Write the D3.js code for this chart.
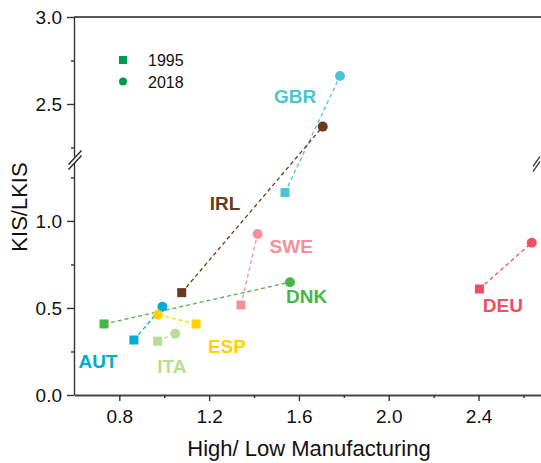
<html>
<head>
<style>
  body { margin: 0; background: #fff; }
  text { font-family: "Liberation Sans", Arial, sans-serif; }
</style>
</head>
<body>
<script src="https://cdn.jsdelivr.net/npm/d3@7"></script>
<script>
// data
var countries = ["GBR", "IRL", "SWE", "DNK", "AUT", "ESP", "ITA", "DEU"];
var x1995 = [1.538, 1.078, 1.342, 0.732, 0.865, 1.142, 0.971, 2.404];
var y1995 = [1.163, 0.588, 0.517, 0.408, 0.316, 0.408, 0.309, 0.609];
var x2018 = [1.783, 1.706, 1.416, 1.560, 0.992, 0.972, 1.049, 2.637];
var y2018 = [2.661, 2.370, 0.925, 0.648, 0.507, 0.461, 0.352, 0.875];
var colors = ["#4cc4d6", "#6b3a1c", "#f4909b", "#47b649", "#00acd3", "#ffd200", "#bbdc98", "#ef4e63"];
var years = ["1995", "2018"];
var xTicks = [0.8, 1.2, 1.6, 2.0, 2.4];
var xMinor = [1.0, 1.4, 1.8, 2.2, 2.6];
var yLowTicks = [0, 0.5, 1.0];
var yLowMinor = [0.25, 0.75, 1.25];
var yHighTicks = [2.5, 3.0];
var yHighMinor = [2.25, 2.75];

// label offsets (px) from the 2018 point
var labelOffset = {
  GBR: [-66, 27], IRL: [-113, 83], SWE: [12, 19], DNK: [-4, 21],
  AUT: [-84, 61], ESP: [50, 38], ITA: [-18, 39], DEU: [-49, 69]
};

var svg = d3.select("body").append("svg")
    .attr("width", 541).attr("height", 463);

var x = d3.scaleLinear().domain([0.6, 2.7]).range([74.4, 545.9]);
var yLow = d3.scaleLinear().domain([0, 1.35]).range([395, 160]);
var yHigh = d3.scaleLinear().domain([2.2, 3.0]).range([156.2, 17]);
function y(v) { return v <= 1.35 ? yLow(v) : yHigh(v); }
var fmt = d3.format(".1f");

// top frame line
svg.append("line").attr("x1", 74).attr("x2", 541).attr("y1", 17).attr("y2", 17)
   .attr("stroke", "#222").attr("stroke-width", 1.6);

function styleAxis(g) {
  g.selectAll("path, line").attr("stroke", "#333").attr("stroke-width", 1.4);
  g.selectAll("text").attr("font-size", 19).attr("fill", "#111")
   .style("font-family", "Liberation Sans, Arial, sans-serif");
}

var gx = svg.append("g").attr("transform", "translate(0,395)");
gx.call(d3.axisBottom(x).tickValues(xTicks).tickFormat(fmt).tickSize(6).tickPadding(9).tickSizeOuter(0)).call(styleAxis);
gx.select(".domain").attr("stroke-width", 1.8).attr("stroke", "#444");
svg.append("g").attr("transform", "translate(0,395)")
   .call(d3.axisBottom(x).tickValues(xMinor).tickFormat("").tickSize(3).tickSizeOuter(0)).call(styleAxis)
   .select(".domain").remove();

[[yLow, yLowTicks, yLowMinor], [yHigh, yHighTicks, yHighMinor]].forEach(function(a) {
  svg.append("g").attr("transform", "translate(74,0)")
     .call(d3.axisLeft(a[0]).tickValues(a[1]).tickFormat(fmt).tickSize(7).tickPadding(5).tickSizeOuter(0)).call(styleAxis);
  svg.append("g").attr("transform", "translate(74,0)")
     .call(d3.axisLeft(a[0]).tickValues(a[2]).tickFormat("").tickSize(3).tickSizeOuter(0)).call(styleAxis)
     .select(".domain").remove();
});

// axis break marks
function breakMark(cx, cy, w, h) {
  svg.append("polygon")
     .attr("points", [[cx - w, cy + h - 2], [cx + w, cy - h - 2], [cx + w, cy - h + 3], [cx - w, cy + h + 3]].join(" "))
     .attr("fill", "#fff");
  [-2.5, 2.5].forEach(function(o) {
    svg.append("line")
       .attr("x1", cx - w).attr("y1", cy + h + o)
       .attr("x2", cx + w).attr("y2", cy - h + o)
       .attr("stroke", "#222").attr("stroke-width", 1.3);
  });
}
breakMark(75, 160, 6.5, 7);
breakMark(536.5, 164, 3.5, 5);

// axis titles
svg.append("text").attr("x", 309).attr("y", 456).attr("text-anchor", "middle")
   .attr("font-size", 22).attr("fill", "#111").text("High/ Low Manufacturing");
svg.append("text").attr("transform", "translate(27,207) rotate(-90)").attr("text-anchor", "middle")
   .attr("font-size", 22).attr("fill", "#111").text("KIS/LKIS");

var data = countries.map(function(c, i) {
  return { c: c, x0: x1995[i], y0: y1995[i], x1: x2018[i], y1: y2018[i], col: colors[i] };
});

// dashed connectors
svg.selectAll("line.link").data(data).enter().append("line").attr("class", "link")
   .attr("x1", function(d) { return x(d.x0); }).attr("y1", function(d) { return y(d.y0); })
   .attr("x2", function(d) { return x(d.x1); }).attr("y2", function(d) { return y(d.y1); })
   .attr("stroke", function(d) { return d.col; })
   .attr("stroke-width", 1.3).attr("stroke-dasharray", "4,3");

// 1995 squares
svg.selectAll("rect.p95").data(data).enter().append("rect").attr("class", "p95")
   .attr("x", function(d) { return x(d.x0) - 4.5; }).attr("y", function(d) { return y(d.y0) - 4.5; })
   .attr("width", 9).attr("height", 9)
   .attr("fill", function(d) { return d.col; });

// 2018 circles
svg.selectAll("circle.p18").data(data).enter().append("circle").attr("class", "p18")
   .attr("cx", function(d) { return x(d.x1); }).attr("cy", function(d) { return y(d.y1); })
   .attr("r", 5)
   .attr("fill", function(d) { return d.col; });

// country labels
svg.selectAll("text.lab").data(data).enter().append("text").attr("class", "lab")
   .attr("x", function(d) { return x(d.x1) + labelOffset[d.c][0]; })
   .attr("y", function(d) { return y(d.y1) + labelOffset[d.c][1]; })
   .attr("font-size", 19).attr("font-weight", "bold")
   .attr("fill", function(d) { return d.col; })
   .text(function(d) { return d.c; });

// legend
var leg = svg.append("g").attr("transform", "translate(123,60)");
leg.append("rect").attr("x", -4).attr("y", -4).attr("width", 8).attr("height", 8).attr("fill", "#009a4f");
leg.append("circle").attr("cx", 0).attr("cy", 21.5).attr("r", 4).attr("fill", "#009a4f");
leg.selectAll("text").data(years).enter().append("text")
   .attr("x", 25).attr("y", function(d, i) { return 6 + i * 21.5; })
   .attr("font-size", 16).attr("fill", "#111")
   .text(function(d) { return d; });
</script>
</body>
</html>
